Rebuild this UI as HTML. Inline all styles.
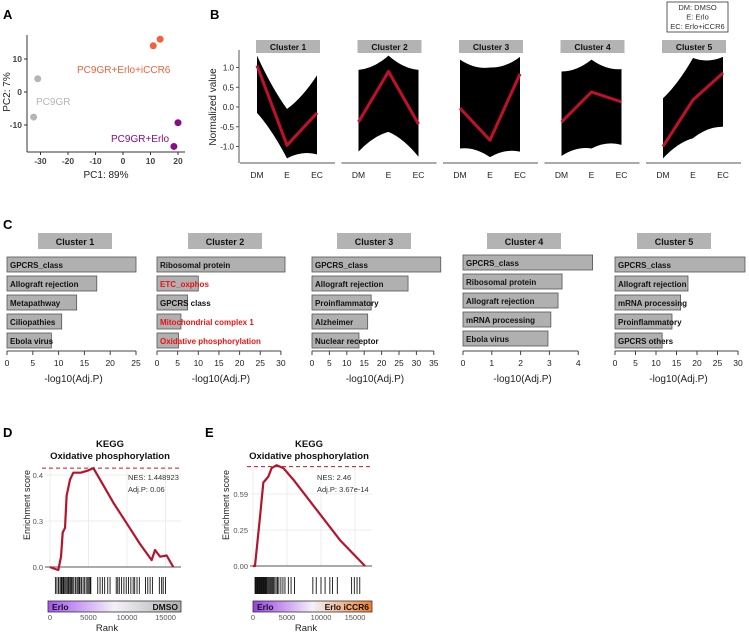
<!DOCTYPE html>
<html><head><meta charset="utf-8"><style>
html,body{margin:0;padding:0;background:#fff;}
svg{display:block;font-family:"Liberation Sans",Arial,sans-serif;}
</style></head><body>
<svg id="fig" width="749" height="632" viewBox="0 0 749 632" xmlns="http://www.w3.org/2000/svg"></svg>
<script>
// ---------- Panel A data ----------
const pcaGroups = ["PC9GR","PC9GR","PC9GR+Erlo+iCCR6","PC9GR+Erlo+iCCR6","PC9GR+Erlo","PC9GR+Erlo"];
const pcaPC1 = [-31, -32.5, 11, 13.5, 20, 18.5];
const pcaPC2 = [4, -7.6, 14, 16, -9.3, -16.5];
const pcaXTicks = [-30,-20,-10,0,10,20];
const pcaYTicks = [10,0,-10];
// ---------- Panel B data ----------
const clusterNames = ["Cluster 1","Cluster 2","Cluster 3","Cluster 4","Cluster 5"];
const conditions = ["DM","E","EC"];
const clusterMean = [[1.05,-0.97,-0.15],[-0.38,0.9,-0.43],[-0.03,-0.84,0.84],[-0.38,0.38,0.13],[-1.0,0.18,0.86]];
const clusterMax = [[1.3,-0.05,0.8],[0.94,1.3,0.94],[1.2,1.0,1.27],[0.9,1.2,0.96],[0.22,1.24,1.27]];
const clusterMin = [[-0.15,-1.3,-1.2],[-1.13,-0.63,-1.26],[-1.05,-1.27,-1.13],[-1.24,-1.05,-0.96],[-1.3,-0.79,-0.5]];
const normYTicks = [1.0,0.5,0.0,-0.5,-1.0];
// ---------- Panel C data ----------
const enrichTerms = [
 ["GPCRS_class","Allograft rejection","Metapathway","Ciliopathies","Ebola virus"],
 ["Ribosomal protein","ETC_oxphos","GPCRS class","Mitochondrial complex 1","Oxidative phosphorylation"],
 ["GPCRS_class","Allograft rejection","Proinflammatory","Alzheimer","Nuclear receptor"],
 ["GPCRS_class","Ribosomal protein","Allograft rejection","mRNA processing","Ebola virus"],
 ["GPCRS_class","Allograft rejection","mRNA processing","Proinflammatory","GPCRS others"]];
const enrichVals = [[25,17.4,13.5,10.6,8.6],[31,10,7.4,5.8,5.2],[37,27.6,17,16,13.5],[4.5,3.44,3.3,3.05,2.95],[31.7,17.8,16,13.9,11.5]];
const enrichRed = [[0,0,0,0,0],[0,1,0,1,1],[0,0,0,0,0],[0,0,0,0,0],[0,0,0,0,0]];
const enrichTicks = [[0,5,10,15,20,25],[0,5,10,15,20,25,30],[0,5,10,15,20,25,30,35],[0,1,2,3,4],[0,5,10,15,20,25,30]];
// ---------- Panel D/E data ----------
const gseaDRank = [0,430,1080,1430,1650,1950,2160,2600,3030,4000,4980,5630,6500,8220,9960,11690,13200,13640,14290,15150,16010];
const gseaDES =   [0,-0.006,-0.013,0.045,0.15,0.17,0.31,0.38,0.41,0.41,0.42,0.43,0.38,0.28,0.19,0.10,0.03,0.074,0.045,0.05,0.0];
const gseaERank = [0,290,1030,1520,2250,2740,3480,4460,5930,9360,12790,16470];
const gseaEES =   [0,0,0.34,0.58,0.62,0.68,0.70,0.68,0.60,0.39,0.18,0.0];
const rugD = [700,900,1100,1300,1450,1550,1700,1800,1950,2100,2250,2400,2500,2650,2800,2950,3100,3300,3500,3650,3800,3900,4100,4300,4500,4700,4900,5050,5200,5300,6200,6500,6800,7100,7500,7800,8600,8800,9000,9300,9600,9900,10200,10500,10800,11000,11300,11600,12400,12700,13000,13300,14200,14500,14700,15000];
const rugE = [300,400,500,600,700,800,900,1000,1100,1200,1300,1400,1500,1600,1700,1800,1900,2000,2100,2250,2400,2550,2700,2850,3000,3200,3400,3600,3800,4100,4400,4700,5200,5600,6100,8800,9300,10000,10600,11300,11700,12400,14500,14900,15300,15700];
const gseaDYTicks = [0,0.2,0.4]; const gseaDYLabels = ["0.0","0.3","0.4"];
const gseaEYTicks = [0,0.25,0.5]; const gseaEYLabels = ["0.00","0.25","0.59"];
const rankTicks = [0,5000,10000,15000];

const svg = document.getElementById('fig');
const NS = "http://www.w3.org/2000/svg";
function el(tag, attrs, parent, text){
  const e = document.createElementNS(NS, tag);
  for (const k in attrs) e.setAttribute(k, attrs[k]);
  if (text !== undefined) e.textContent = text;
  (parent||svg).appendChild(e);
  return e;
}
function txt(x,y,s,size,opts,name){
  const o = Object.assign({x:x,y:y,'font-size':size,fill:'#222'},opts||{});
  const t = el('text',o,null,s);
  
  
  return t;
}
// Panel letters
[["A",3,19],["B",210,19],["C",3,229],["D",3,437],["E",205,437]].forEach(p=>{
  const t = txt(p[1],p[2],p[0],13,{'font-weight':'bold',fill:'#000'});
  
});

// ---------- Panel A ----------
(function(){
  const sx = v => 123 + 2.75*v, sy = v => 92 - 3.3*v;
  const g = el('g',{});  
  el('line',{x1:27,y1:35,x2:27,y2:152,stroke:'#333','stroke-width':1},g);
  el('line',{x1:27,y1:152,x2:185,y2:152,stroke:'#333','stroke-width':1},g);
  pcaXTicks.forEach(v=>{
    el('line',{x1:sx(v),y1:152,x2:sx(v),y2:155,stroke:'#333'},g);
    const t=txt(sx(v),164,String(v),8.5,{'text-anchor':'middle','font-weight':'bold',fill:'#444'}); 
  });
  pcaYTicks.forEach(v=>{
    el('line',{x1:24,y1:sy(v),x2:27,y2:sy(v),stroke:'#333'},g);
    const t=txt(22,sy(v)+3,String(v),8.5,{'text-anchor':'end','font-weight':'bold',fill:'#444'}); 
  });
  const col = {"PC9GR":"#b5b5b5","PC9GR+Erlo+iCCR6":"#f4603a","PC9GR+Erlo":"#8b0b8b"};
  pcaPC1.forEach((v,i)=>{
    const c = el('circle',{cx:sx(v),cy:sy(pcaPC2[i]),r:3.5,fill:col[pcaGroups[i]]},g);
    
    
  });
  txt(77,73,"PC9GR+Erlo+iCCR6",10,{fill:'#f4603a'},'group-label-erlo-iccr6');
  txt(36,105,"PC9GR",10,{fill:'#b5b5b5'},'group-label-pc9gr');
  txt(111,142,"PC9GR+Erlo",10,{fill:'#8b0b8b'},'group-label-erlo');
  txt(106,178,"PC1: 89%",10,{'text-anchor':'middle'},'pca-x-title');
  txt(0,0,"PC2: 7%",10,{'text-anchor':'middle',transform:'translate(10,92) rotate(-90)'},'pca-y-title');
})();

// ---------- Panel B ----------
(function(){
  const sy = v => 107 - 39.5*v;
  const g = el('g',{});  
  el('line',{x1:239,y1:50,x2:239,y2:163,stroke:'#555','stroke-width':1},g);
  normYTicks.forEach(v=>{
    el('line',{x1:236,y1:sy(v),x2:239,y2:sy(v),stroke:'#555'},g);
    const t=txt(234,sy(v)+3,v.toFixed(1),8,{'text-anchor':'end'}); 
  });
  txt(0,0,"Normalized value",10,{'text-anchor':'middle',transform:'translate(216,107) rotate(-90)'},'norm-y-title');
  clusterNames.forEach((name,ci)=>{
    const x0 = 257 + ci*101.5, dx = 30;
    const px = k => x0 + k*dx;
    const fg = el('g',{},g);  
    const st = el('rect',{x:x0-1,y:40,width:64,height:13,fill:'#b3b3b3'},fg); 
    txt(x0+31,50,name,8.5,{'text-anchor':'middle','font-weight':'bold',fill:'#111'},'facet-strip-label');
    // band
    let d = 'M'+px(0)+','+sy(clusterMax[ci][0]);
    for (let k=1;k<3;k++){
      const mx=(px(k-1)+px(k))/2, my=(sy(clusterMax[ci][k-1])+sy(clusterMax[ci][k]))/2;
      const cy = my + 6; d += ' Q'+mx+','+cy+' '+px(k)+','+sy(clusterMax[ci][k]);
    }
    d += ' L'+px(2)+','+sy(clusterMin[ci][2]);
    for (let k=1;k>=0;k--){
      const mx=(px(k+1)+px(k))/2, my=(sy(clusterMin[ci][k+1])+sy(clusterMin[ci][k]))/2;
      d += ' Q'+mx+','+(my-6)+' '+px(k)+','+sy(clusterMin[ci][k]);
    }
    d+='Z';
    const b = el('path',{d:d,fill:'#000'},fg); 
    const pts = clusterMean[ci].map((v,k)=>px(k)+','+sy(v)).join(' ');
    const m = el('polyline',{points:pts,fill:'none',stroke:'#c0102a','stroke-width':3,'stroke-linejoin':'round'},fg);
    
    
    el('line',{x1:x0-17,y1:163,x2:x0+78,y2:163,stroke:'#777','stroke-width':1.2},fg);
    conditions.forEach((c,k)=>{
      const t=txt(px(k),178,c,8.5,{'text-anchor':'middle'}); 
    });
  });
  const lg = el('g',{});  
  el('rect',{x:667,y:2,width:61,height:30,fill:'#fff',stroke:'#333','stroke-width':0.8},lg);
  ["DM: DMSO","E: Erlo","EC: Erlo+iCCR6"].forEach((s,i)=>{
    const t=txt(697.5,10+i*9.5,s,7.5,{'text-anchor':'middle','fill':'#333'}); 
  });
})();

// ---------- Panel C ----------
(function(){
  const axes = [{x0:7,ppu:5.16},{x0:157,ppu:4.13},{x0:312,ppu:3.48},{x0:463,ppu:28.8},{x0:615,ppu:4.1}];
  const strips = [38,188,337,487,637];
  const rowTop = [257,257,257,255,257];
  clusterNames.forEach((name,ci)=>{
    const a = axes[ci];
    const g = el('g',{});  
    el('rect',{x:strips[ci],y:233,width:74,height:16,fill:'#b3b3b3'},g);
    txt(strips[ci]+37,245,name,9,{'text-anchor':'middle','font-weight':'bold',fill:'#111'},'facet-strip-label');
    enrichVals[ci].forEach((v,i)=>{
      const y = rowTop[ci] + i*19;
      const r = el('rect',{x:a.x0,y:y,width:v*a.ppu,height:15,fill:'#b0b0b0',stroke:'#555','stroke-width':0.8},g);
      
      
      txt(a.x0+3,y+11,enrichTerms[ci][i],8,{'font-weight':'bold',fill:enrichRed[ci][i]?'#ee1111':'#111'},'term-label');
    });
    const ticks = enrichTicks[ci];
    const xEnd = a.x0 + ticks[ticks.length-1]*a.ppu;
    el('line',{x1:a.x0,y1:351,x2:xEnd,y2:351,stroke:'#444'},g);
    ticks.forEach(v=>{
      const x=a.x0+v*a.ppu;
      el('line',{x1:x,y1:351,x2:x,y2:355,stroke:'#444'},g);
      const t=txt(x,366,String(v),8.5,{'text-anchor':'middle'}); 
    });
    txt((a.x0+xEnd)/2+2,382,"-log10(Adj.P)",10,{'text-anchor':'middle'},'enrichment-x-title');
  });
})();

// ---------- Panel D/E ----------
function gsea(cfg){
  const g = el('g',{});  
  const sx = r => cfg.rx0 + r*cfg.rppu, sy = v => cfg.y0 - v*cfg.yppu;
  txt(cfg.cx,447,"KEGG",9.5,{'text-anchor':'middle','font-weight':'bold',fill:'#111'},'gsea-title');
  txt(cfg.cx,459,"Oxidative phosphorylation",9.5,{'text-anchor':'middle','font-weight':'bold',fill:'#111'},'gsea-subtitle');
  rankTicks.forEach(r=>{ el('line',{x1:sx(r),y1:465,x2:sx(r),y2:sy(0),stroke:'#ececec'},g); });
  cfg.yt.forEach(v=>{ el('line',{x1:cfg.xl,y1:sy(v),x2:cfg.xr,y2:sy(v),stroke:'#ececec'},g); });
  el('line',{x1:cfg.xl,y1:sy(0),x2:cfg.xr,y2:sy(0),stroke:'#555'},g);
  cfg.yt.forEach((v,i)=>{
    const t=txt(cfg.xl-2,sy(v)+3,cfg.yl[i],7.5,{'text-anchor':'end',fill:'#555'}); 
  });
  const dl = el('line',{x1:cfg.xl-3,y1:sy(cfg.peak),x2:cfg.xr,y2:sy(cfg.peak),stroke:'#d0141e','stroke-dasharray':'4,3','stroke-width':1},g);
  
  const pts = cfg.rank.map((r,i)=>sx(r)+','+sy(cfg.es[i])).join(' ');
  const c = el('polyline',{points:pts,fill:'none',stroke:'#b5142c','stroke-width':2.2,'stroke-linejoin':'round'},g);
  
  
  txt(cfg.nx,480,cfg.nes,7.5,{fill:'#333'},'nes-label');
  txt(cfg.nx,492,cfg.adj,7.5,{fill:'#333'},'adjp-label');
  txt(0,0,"Enrichment score",9,{'text-anchor':'middle',transform:'translate('+cfg.ytx+',505) rotate(-90)'},'es-y-title');
  cfg.rug.forEach(r=>{
    const l = el('line',{x1:sx(r),y1:577,x2:sx(r),y2:594,stroke:'#111','stroke-width':0.9},g);
    
  });
  const gid = 'grad'+cfg.name;
  const defs = el('defs',{},g);
  const lg = el('linearGradient',{id:gid,x1:'0',x2:'1',y1:'0',y2:'0'},defs);
  el('stop',{offset:'0','stop-color':cfg.c1},lg);
  el('stop',{offset:'0.5','stop-color':'#f4f0f8'},lg);
  el('stop',{offset:'1','stop-color':cfg.c2},lg);
  const bar = el('rect',{x:cfg.xl+3,y:601,width:cfg.xr-cfg.xl-3,height:11,fill:'url(#'+gid+')',stroke:'#333','stroke-width':0.8},g);
  
  txt(cfg.xl+7,610,"Erlo",8.5,{'font-weight':'bold',fill:'#111'},'color-bar-left-label');
  txt(cfg.xr-3,610,cfg.rightLabel,8.5,{'font-weight':'bold','text-anchor':'end',fill:'#111'},'color-bar-right-label');
  rankTicks.forEach(r=>{
    const t=txt(sx(r),620,String(r),7.5,{'text-anchor':'middle',fill:'#555'}); 
  });
  txt(cfg.cx-3,631,"Rank",9.5,{'text-anchor':'middle'},'rank-title');
}
gsea({name:'gsea-d',rank:gseaDRank,es:gseaDES,rug:rugD,rx0:50,rppu:0.0077,y0:567,yppu:230,xl:45,xr:181,yt:gseaDYTicks,yl:gseaDYLabels,peak:0.43,cx:110,nx:128,nes:"NES: 1.448923",adj:"Adj.P: 0.06",ytx:30,c1:'#a755f2',c2:'#b0b0b0',rightLabel:'DMSO'});
gsea({name:'gsea-e',rank:gseaERank,es:gseaEES,rug:rugE,rx0:253,rppu:0.0068,y0:566,yppu:144,xl:250,xr:372,yt:gseaEYTicks,yl:gseaEYLabels,peak:0.69,cx:309,nx:317,nes:"NES: 2.46",adj:"Adj.P: 3.67e-14",ytx:229,c1:'#9b3fe8',c2:'#f0802e',rightLabel:'Erlo iCCR6'});
</script>
</body></html>
